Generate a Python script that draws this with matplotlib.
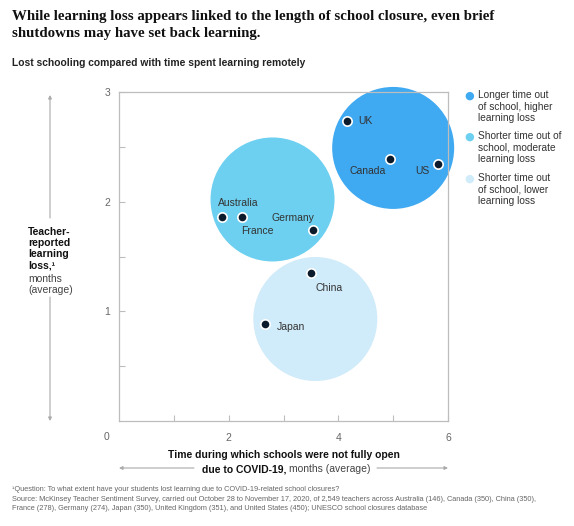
import matplotlib
matplotlib.use("Agg")
import matplotlib.pyplot as plt

# Data
# ----
countries = ["UK", "Canada", "US", "Australia", "France", "Germany", "China", "Japan"]
months_closed = [4.15, 4.95, 5.82, 1.87, 2.25, 3.53, 3.51, 2.67]
learning_loss = [2.74, 2.39, 2.34, 1.86, 1.86, 1.74, 1.35, 0.88]

groups = ["Longer time out\nof school, higher\nlearning loss",
          "Shorter time out of\nschool, moderate\nlearning loss",
          "Shorter time out\nof school, lower\nlearning loss"]
group_x = [5.0, 2.8, 3.58]
group_y = [2.49, 2.02, 0.93]
group_colors = ["#3FA9F2", "#6DD0F0", "#D0EBF9"]

x_ticks = [2, 4, 6]
y_ticks = [1, 2, 3]

# label offsets in pixels (dx, dy, ha)
label_pos = {"UK": (12, 0, "left"), "Canada": (-5, -12, "right"), "US": (-9, -7, "right"),
             "Australia": (-4, 14, "left"), "France": (-1, -14, "left"),
             "Germany": (2, 12, "right"), "China": (4, -15, "left"), "Japan": (11, -3, "left")}

sans = "Liberation Sans"
grey = "#BDBDBD"
txt = "#333333"
px = 0.72

fig = plt.figure(figsize=(5.74, 5.26), dpi=100)
fig.patch.set_facecolor("white")

ax = fig.add_axes([119/574, 1-421/526, 329/574, 329/526])
ax.set_xlim(0, 6)
ax.set_ylim(0, 3)

# bubbles
sizes = [(2*61*px)**2, (2*62*px)**2, (2*62*px)**2]
ax.scatter(group_x, group_y, s=sizes, c=group_colors, linewidths=0, zorder=1, clip_on=False)

# country points
ax.scatter(months_closed, learning_loss, s=45, c="#0B1B2B", edgecolors="white",
           linewidths=1.2, zorder=3, clip_on=False)
for name, xv, yv in zip(countries, months_closed, learning_loss):
    dx, dy, ha = label_pos[name]
    ax.annotate(name, xy=(xv, yv), xytext=(dx*px, dy*px), textcoords="offset points",
                ha=ha, va="center", fontsize=7.5, color=txt, family=sans, zorder=4)

# axes style
for sp in ax.spines.values():
    sp.set_color(grey)
    sp.set_linewidth(0.9)
    sp.set_zorder(2.5)
ax.set_xticks([1, 2, 3, 4, 5, 6])
ax.set_xticklabels(["" if t not in x_ticks else str(t) for t in [1, 2, 3, 4, 5, 6]])
ax.set_yticks([0.5, 1, 1.5, 2, 2.5, 3])
ax.set_yticklabels(["" if t not in y_ticks else str(int(t)) for t in [0.5, 1, 1.5, 2, 2.5, 3]])
ax.tick_params(direction="in", length=6*px, width=0.8, color=grey, labelcolor="#666666",
               labelsize=7.5)
ax.tick_params(axis="x", pad=12*px)
ax.tick_params(axis="y", pad=9*px)
for lab in ax.get_xticklabels() + ax.get_yticklabels():
    lab.set_family(sans)
ax.annotate("0", xy=(0, 0), xytext=(-13*px, -16*px), textcoords="offset points",
            ha="center", va="center", fontsize=7.5, color="#666666", family=sans)

# legend
leg_y = [96, 137, 179]
for lab, col, ly in zip(groups, group_colors, leg_y):
    fig.text(469/574, 1-ly/526, "\u25CF", color=col, fontsize=8, ha="center", va="center",
             family="DejaVu Sans")
    fig.text(478/574, 1-(ly-6)/526, lab, color=txt, fontsize=7.3, ha="left", va="top",
             family=sans, linespacing=1.2)

# y label
fig.text(28/574, 1-227/526, "Teacher-\nreported\nlearning\nloss,\u00b9", fontsize=7.5,
         fontweight="bold", color="#111111", ha="left", va="top", family=sans, linespacing=1.15)
fig.text(28/574, 1-274/526, "months\n(average)", fontsize=7.5, color="#444444",
         ha="left", va="top", family=sans, linespacing=1.15)
arrow = dict(arrowstyle="-|>", color="#AAAAAA", lw=0.8, mutation_scale=5, shrinkA=0, shrinkB=0)
fig.add_artist(plt.matplotlib.text.Annotation("", xy=(50/574, 1-95/526), xytext=(50/574, 1-218/526),
                                              xycoords="figure fraction", arrowprops=arrow))
fig.add_artist(plt.matplotlib.text.Annotation("", xy=(50/574, 1-421/526), xytext=(50/574, 1-297/526),
                                              xycoords="figure fraction", arrowprops=arrow))

# x label
fig.text(284/574, 1-455/526, "Time during which schools were not fully open", fontsize=7.5,
         fontweight="bold", color="#111111", ha="center", va="center", family=sans)
fig.text(286/574, 1-469/526, "due to COVID-19,", fontsize=7.5, fontweight="bold",
         color="#111111", ha="right", va="center", family=sans)
fig.text(289/574, 1-469/526, "months (average)", fontsize=7.5, color="#444444",
         ha="left", va="center", family=sans)
fig.add_artist(plt.matplotlib.text.Annotation("", xy=(119/574, 1-468/526), xytext=(194/574, 1-468/526),
                                              xycoords="figure fraction", arrowprops=arrow))
fig.add_artist(plt.matplotlib.text.Annotation("", xy=(448/574, 1-468/526), xytext=(377/574, 1-468/526),
                                              xycoords="figure fraction", arrowprops=arrow))

# title and subtitle
fig.text(12/574, 1-10/526, "While learning loss appears linked to the length of school closure, even brief\n"
         "shutdowns may have set back learning.", fontsize=10.7, fontweight="bold",
         family="Liberation Serif", color="#111111", ha="left", va="top", linespacing=1.45)
fig.text(12/574, 1-63/526, "Lost schooling compared with time spent learning remotely", fontsize=7.4,
         fontweight="bold", family=sans, color="#222222", ha="left", va="center")

# footnote
fig.text(12/574, 1-486/526,
         "\u00b9Question: To what extent have your students lost learning due to COVID-19-related school closures?\n"
         "Source: McKinsey Teacher Sentiment Survey, carried out October 28 to November 17, 2020, of 2,549 teachers "
         "across Australia (146), Canada (350), China (350),\n"
         "France (278), Germany (274), Japan (350), United Kingdom (351), and United States (450); "
         "UNESCO school closures database",
         fontsize=5.3, color="#666666", family=sans, ha="left", va="top", linespacing=1.55)

fig.savefig("out.png", dpi=100, facecolor="white")
